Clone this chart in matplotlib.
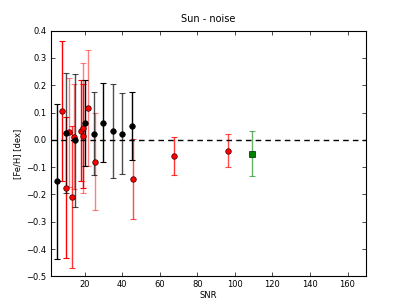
import matplotlib
matplotlib.use("Agg")
import matplotlib.pyplot as plt

# Black series (SNR, [Fe/H], error, bar alpha)
black_snr = [5, 10, 15, 20, 25, 30, 35, 40, 45]
black_feh = [-0.152, 0.025, -0.002, 0.062, 0.023, 0.063, 0.033, 0.023, 0.052]
black_err = [0.283, 0.221, 0.245, 0.158, 0.153, 0.145, 0.173, 0.147, 0.124]
black_alpha = [1.0, 0.7, 0.7, 1.0, 0.7, 1.0, 0.7, 0.7, 1.0]

# Red series
red_snr = [8.1, 9.9, 11.8, 13.2, 14.1, 18.2, 19.1, 19.3, 21.8, 25.7, 45.6, 67.6, 96.1]
red_feh = [0.106, -0.176, 0.028, -0.211, 0.011, 0.034, 0.044, 0.014, 0.117, -0.08, -0.144, -0.06, -0.04]
red_err = [0.258, 0.258, 0.2, 0.26, 0.192, 0.184, 0.237, 0.19, 0.212, 0.178, 0.147, 0.07, 0.06]
red_alpha = [1.0, 1.0, 0.5, 0.8, 0.5, 1.0, 0.5, 1.0, 0.5, 0.5, 0.7, 0.8, 0.7]

# Green point
green_snr = [108.9]
green_feh = [-0.05]
green_err = [0.083]

fig = plt.figure(figsize=(4.07, 3.07), dpi=100)
ax = fig.add_axes([0.125, 0.1, 0.775, 0.8])


def draw(xs, ys, es, alphas, color, marker, edge):
    for x, y, e, a in zip(xs, ys, es, alphas):
        ax.errorbar([x], [y], yerr=[e], fmt='none', ecolor=color, alpha=a,
                    capsize=2, elinewidth=1, capthick=0.8)
    ax.plot(xs, ys, linestyle='none', marker=marker, color=color,
            markersize=4, markeredgecolor=edge, markeredgewidth=0.5, zorder=3)


draw(red_snr, red_feh, red_err, red_alpha, 'red', 'o', '#330000')
draw(black_snr, black_feh, black_err, black_alpha, 'black', 'o', 'black')
draw(green_snr, green_feh, green_err, [0.6], 'green', 's', '#002200')

ax.axhline(0, color='black', linestyle='--', linewidth=1, dashes=(4, 3))

ax.set_xlim(2, 170)
ax.set_ylim(-0.5, 0.4)
ax.set_xticks([20, 40, 60, 80, 100, 120, 140, 160])
ax.set_yticks([-0.5, -0.4, -0.3, -0.2, -0.1, 0.0, 0.1, 0.2, 0.3, 0.4])
ax.tick_params(labelsize=6, direction='in', length=3, width=0.5, top=True, right=True, pad=3)
for s in ax.spines.values():
    s.set_linewidth(0.8)

ax.set_xlabel("SNR", fontsize=6, labelpad=1)
ax.set_ylabel("[Fe/H] [dex]", fontsize=6, labelpad=3)
ax.set_title("Sun - noise", fontsize=7, pad=6)

fig.savefig("out.png", dpi=100)
